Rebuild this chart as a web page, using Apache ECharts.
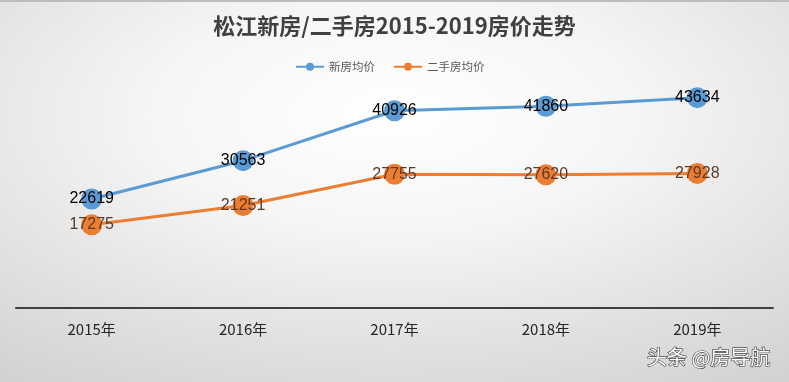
<!DOCTYPE html>
<html><head><meta charset="utf-8">
<script src="https://cdn.jsdelivr.net/npm/echarts@6/dist/echarts.min.js"></script>
<style>html,body{margin:0;padding:0;}#c{width:789px;height:382px;}</style>
</head><body><div id="c"></div>
<script>
var categories = ['2015年','2016年','2017年','2018年','2019年'];
var newHouse = [22619, 30563, 40926, 41860, 43634];
var secondHand = [17275, 21251, 27755, 27620, 27928];
var seriesNames = ['新房均价','二手房均价'];
var titleText = '松江新房/二手房2015-2019房价走势';

var chart = echarts.init(document.getElementById('c'));
chart.setOption({
  backgroundColor: '#d6d6d6',
  animation: false,
  title: {
    text: titleText, left: 'center', top: 10,
    textStyle: {fontFamily: 'Noto Sans CJK SC', fontSize: 22, fontWeight: 'bold', color: '#404040'}
  },
  legend: {
    top: 56, left: 290, itemWidth: 28, itemHeight: 10, itemGap: 18,
    textStyle: {fontFamily: 'Noto Sans CJK SC', fontSize: 11.5, color: '#595959'},
    data: seriesNames
  },
  grid: {left: 16, right: 16, top: 67, bottom: 74},
  xAxis: {
    type: 'category', data: categories,
    axisLine: {lineStyle: {color: '#404040', width: 2}},
    axisTick: {show: false},
    axisLabel: {margin: 14, fontFamily: '"Liberation Sans Narrow", "Noto Sans CJK SC"', fontSize: 15, color: '#262626'}
  },
  yAxis: {type: 'value', min: 0, max: 50000, show: false, splitLine: {show: false}},
  series: [
    {
      name: seriesNames[0], type: 'line', data: newHouse,
      symbol: 'circle', symbolSize: 21,
      lineStyle: {color: '#5B9BD5', width: 3},
      itemStyle: {color: '#5B9BD5'},
      label: {show: true, position: 'inside', color: '#000000', fontFamily: 'Liberation Sans', fontSize: 16}
    },
    {
      name: seriesNames[1], type: 'line', data: secondHand,
      symbol: 'circle', symbolSize: 21,
      lineStyle: {color: '#ED7D31', width: 3},
      itemStyle: {color: '#ED7D31'},
      label: {show: true, position: 'inside', color: '#5a3a28', fontFamily: 'Liberation Sans', fontSize: 16}
    }
  ],
  graphic: [
    {type: 'rect', x: 0, y: 0, scaleX: 789/382, z: -100, silent: true,
      shape: {width: 382, height: 382},
      style: {fill: new echarts.graphic.RadialGradient(0.5, 0.3, 0.85, [
        {offset: 0, color: '#ffffff'},
        {offset: 0.35, color: '#f6f6f6'},
        {offset: 0.7, color: '#e2e2e2'},
        {offset: 1, color: '#d2d2d2'}
      ])}},
    {type: 'rect', left: 0, top: 0, shape: {width: 789, height: 2}, style: {fill: '#bdbdbd'}},
    {type: 'text', right: 18, bottom: 14, style: {text: '头条 @房导航', fill: '#ffffff', font: '20px "Noto Sans CJK SC"',
      stroke: '#4a4a4a', lineWidth: 1.3}}
  ]
});
</script></body></html>
